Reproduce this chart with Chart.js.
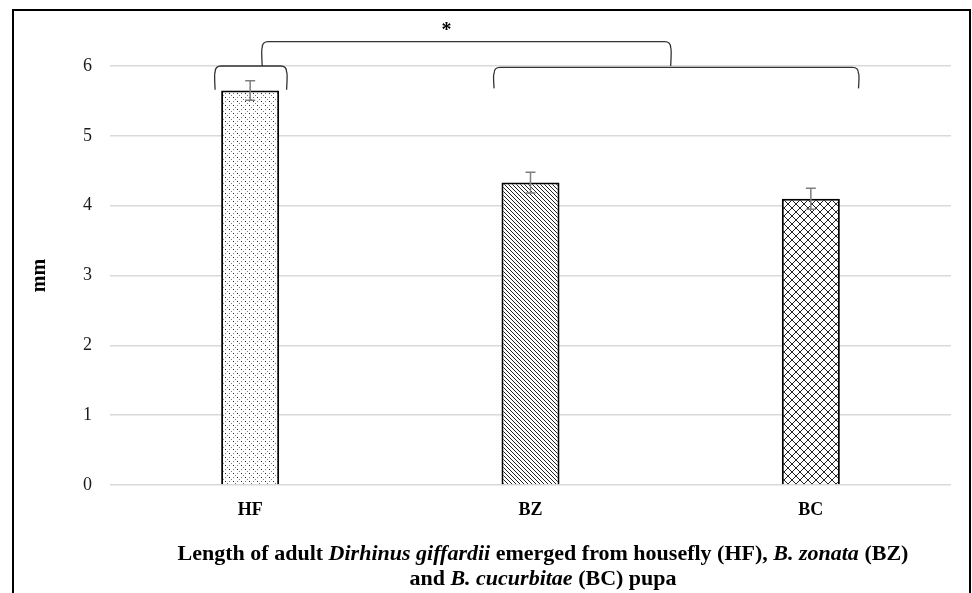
<!DOCTYPE html>
<html>
<head>
<meta charset="utf-8">
<script src="https://cdn.jsdelivr.net/npm/chart.js@4.4.0/dist/chart.umd.min.js"></script>
<style>
    body { margin: 0; background: #fff; }
    #wrap { position: relative; width: 972px; height: 593px; overflow: hidden; }
    #frame { position: absolute; left: 12px; top: 9px; width: 955px; height: 620px; border: 2px solid #000; }
    #lengthChart { position: absolute; left: 0; top: 0; }
    #caption {
        position: absolute; left: 93px; width: 900px; top: 540px;
        text-align: center; font: bold 22px "Liberation Serif", serif; line-height: 25px; color: #000;
    }
</style>
</head>
<body>
<div id="wrap">
    <div id="frame"></div>
    <canvas id="lengthChart" width="972" height="593"></canvas>
    <div id="caption">Length of adult <i>Dirhinus giffardii</i> emerged from housefly (HF), <i>B. zonata</i> (BZ)<br>and <i>B. cucurbitae</i> (BC) pupa</div>
</div>
<script>
// datos
const categorias = ['HF', 'BZ', 'BC'];
const longitudMedia = [5.65, 4.33, 4.10];
const errorEstandar = [0.14, 0.15, 0.15];
const ticksY = [0, 1, 2, 3, 4, 5, 6];

// llaves de significancia (en unidades de categoría / mm)
const llaves = [
    { desde: -0.125, hasta: 0.13, arriba: 6.0, abajo: 5.66 },
    { desde: 0.87, hasta: 2.17, arriba: 5.98, abajo: 5.68 },
    { desde: 0.043, hasta: 1.5, arriba: 6.35, abajo: 6.0 }
];
const asterisco = { x: 0.7, y: 6.5, texto: '*' };

// patrones de relleno
function patron(tipo) {
    const c = document.createElement('canvas');
    const ctx = c.getContext('2d');
    if (tipo === 'puntos') {
        c.width = 8; c.height = 8;
        ctx.fillStyle = '#fff'; ctx.fillRect(0, 0, 8, 8);
        ctx.fillStyle = '#222';
        ctx.fillRect(1, 1, 1, 1); ctx.fillRect(5, 5, 1, 1);
        ctx.fillStyle = '#777';
        ctx.fillRect(5, 1, 1, 1); ctx.fillRect(1, 5, 1, 1);
        ctx.fillRect(3, 3, 1, 1); ctx.fillRect(7, 7, 1, 1);
    } else if (tipo === 'diagonal') {
        c.width = 4; c.height = 4;
        ctx.fillStyle = '#fff'; ctx.fillRect(0, 0, 4, 4);
        ctx.fillStyle = '#222';
        for (let i = 0; i < 4; i++) ctx.fillRect(i, i, 1, 1);
    } else {
        c.width = 8; c.height = 8;
        ctx.fillStyle = '#fff'; ctx.fillRect(0, 0, 8, 8);
        ctx.fillStyle = '#222';
        for (let i = 0; i < 8; i++) { ctx.fillRect(i, i, 1, 1); ctx.fillRect(7 - i, i, 1, 1); }
    }
    return document.createElement('canvas').getContext('2d').createPattern(c, 'repeat');
}

const anotaciones = {
    id: 'anotaciones',
    afterDatasetsDraw(chart) {
        const ctx = chart.ctx;
        const x = chart.scales.x, y = chart.scales.y;
        const meta = chart.getDatasetMeta(0);

        // barras de error
        ctx.save();
        ctx.strokeStyle = '#7f7f7f';
        ctx.lineWidth = 1.5;
        meta.data.forEach((bar, i) => {
            const yA = y.getPixelForValue(longitudMedia[i] + errorEstandar[i]);
            const yB = y.getPixelForValue(longitudMedia[i] - errorEstandar[i]);
            ctx.beginPath();
            ctx.moveTo(bar.x, yA); ctx.lineTo(bar.x, yB);
            ctx.moveTo(bar.x - 5, yA); ctx.lineTo(bar.x + 5, yA);
            ctx.moveTo(bar.x - 5, yB); ctx.lineTo(bar.x + 5, yB);
            ctx.stroke();
        });
        ctx.restore();

        // llaves
        ctx.save();
        ctx.strokeStyle = '#333';
        ctx.lineWidth = 1.3;
        llaves.forEach(l => {
            const x1 = x.getPixelForValue(l.desde), x2 = x.getPixelForValue(l.hasta);
            const yt = y.getPixelForValue(l.arriba), yb = y.getPixelForValue(l.abajo);
            const r = 6;
            ctx.beginPath();
            ctx.moveTo(x1, yb);
            ctx.quadraticCurveTo(x1 - 1, yt + r, x1, yt + r);
            ctx.quadraticCurveTo(x1, yt, x1 + r, yt);
            ctx.lineTo(x2 - r, yt);
            ctx.quadraticCurveTo(x2, yt, x2, yt + r);
            ctx.quadraticCurveTo(x2 + 1, yt + r, x2, yb);
            ctx.stroke();
        });
        ctx.fillStyle = '#000';
        ctx.font = 'bold 20px "Liberation Serif"';
        ctx.textAlign = 'center';
        ctx.textBaseline = 'middle';
        ctx.fillText(asterisco.texto, x.getPixelForValue(asterisco.x), y.getPixelForValue(asterisco.y));
        ctx.restore();
    }
};

document.addEventListener('DOMContentLoaded', function() {
    const canvas = document.getElementById('lengthChart');
    new Chart(canvas.getContext('2d'), {
        type: 'bar',
        data: {
            labels: categorias,
            datasets: [{
                label: 'mm',
                data: longitudMedia,
                backgroundColor: [patron('puntos'), patron('diagonal'), patron('cruz')],
                borderColor: '#000',
                borderWidth: 2,
                borderSkipped: 'bottom',
                categoryPercentage: 1,
                barPercentage: 0.207
            }]
        },
        options: {
            responsive: false,
            animation: false,
            layout: { padding: { left: 22, right: 21, top: 66, bottom: 68 } },
            plugins: { legend: { display: false }, tooltip: { enabled: false } },
            scales: {
                y: {
                    min: 0, max: 6,
                    afterBuildTicks: s => { s.ticks = ticksY.map(v => ({ value: v })); },
                    afterFit: s => { s.width = 88; },
                    grid: { color: '#d9d9d9', lineWidth: 1.5, drawTicks: false },
                    border: { display: false },
                    ticks: { padding: 18, color: '#1a1a1a', font: { family: 'Liberation Serif', size: 18 } },
                    title: {
                        display: true, text: 'mm', color: '#000',
                        padding: { top: 6, bottom: 0 },
                        font: { family: 'Liberation Serif', size: 20, weight: 'bold' }
                    }
                },
                x: {
                    afterFit: s => { s.height = 40; },
                    grid: { display: false },
                    border: { display: false },
                    ticks: { padding: 7, color: '#000', font: { family: 'Liberation Serif', size: 18, weight: 'bold' } }
                }
            }
        },
        plugins: [anotaciones]
    });
});
</script>
</body>
</html>
